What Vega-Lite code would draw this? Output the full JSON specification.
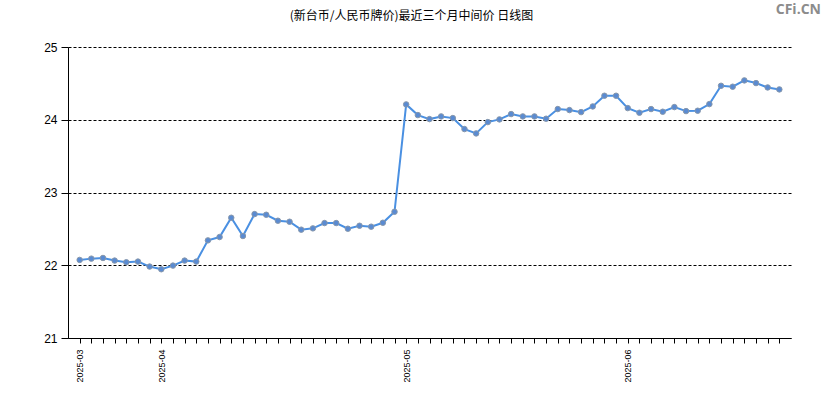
{
  "$schema": "https://vega.github.io/schema/vega-lite/v6.json",
  "width": 723,
  "height": 291,
  "autosize": {"type": "none"},
  "padding": {"left": 68, "top": 47, "right": 34, "bottom": 62},
  "background": "white",
  "title": {
    "text": "(新台币/人民币牌价)最近三个月中间价 日线图",
    "font": "Noto Sans CJK SC",
    "fontSize": 12,
    "fontWeight": "normal",
    "color": "#000000",
    "anchor": "middle",
    "dx": -18,
    "offset": -20
  },
  "config": {
    "view": {"stroke": null},
    "axis": {"labelFont": "Liberation Sans", "titleFont": "Liberation Sans"}
  },
  "data": {
    "values": [
      {"date": "2025-03-21", "rate": 22.073},
      {"date": "2025-03-24", "rate": 22.091},
      {"date": "2025-03-25", "rate": 22.100},
      {"date": "2025-03-26", "rate": 22.064},
      {"date": "2025-03-27", "rate": 22.041},
      {"date": "2025-03-28", "rate": 22.050},
      {"date": "2025-03-31", "rate": 21.982},
      {"date": "2025-04-01", "rate": 21.945},
      {"date": "2025-04-02", "rate": 21.995},
      {"date": "2025-04-03", "rate": 22.064},
      {"date": "2025-04-07", "rate": 22.050},
      {"date": "2025-04-08", "rate": 22.342},
      {"date": "2025-04-09", "rate": 22.388},
      {"date": "2025-04-10", "rate": 22.653},
      {"date": "2025-04-11", "rate": 22.402},
      {"date": "2025-04-14", "rate": 22.703},
      {"date": "2025-04-15", "rate": 22.694},
      {"date": "2025-04-16", "rate": 22.612},
      {"date": "2025-04-17", "rate": 22.598},
      {"date": "2025-04-18", "rate": 22.489},
      {"date": "2025-04-21", "rate": 22.507},
      {"date": "2025-04-22", "rate": 22.580},
      {"date": "2025-04-23", "rate": 22.580},
      {"date": "2025-04-24", "rate": 22.502},
      {"date": "2025-04-25", "rate": 22.543},
      {"date": "2025-04-28", "rate": 22.530},
      {"date": "2025-04-29", "rate": 22.584},
      {"date": "2025-04-30", "rate": 22.735},
      {"date": "2025-05-06", "rate": 24.211},
      {"date": "2025-05-07", "rate": 24.064},
      {"date": "2025-05-08", "rate": 24.009},
      {"date": "2025-05-09", "rate": 24.046},
      {"date": "2025-05-12", "rate": 24.023},
      {"date": "2025-05-13", "rate": 23.872},
      {"date": "2025-05-14", "rate": 23.812},
      {"date": "2025-05-15", "rate": 23.968},
      {"date": "2025-05-16", "rate": 24.005},
      {"date": "2025-05-19", "rate": 24.078},
      {"date": "2025-05-20", "rate": 24.046},
      {"date": "2025-05-21", "rate": 24.046},
      {"date": "2025-05-22", "rate": 24.014},
      {"date": "2025-05-23", "rate": 24.147},
      {"date": "2025-05-26", "rate": 24.133},
      {"date": "2025-05-27", "rate": 24.105},
      {"date": "2025-05-28", "rate": 24.183},
      {"date": "2025-05-29", "rate": 24.330},
      {"date": "2025-05-30", "rate": 24.330},
      {"date": "2025-06-03", "rate": 24.160},
      {"date": "2025-06-04", "rate": 24.096},
      {"date": "2025-06-05", "rate": 24.147},
      {"date": "2025-06-06", "rate": 24.110},
      {"date": "2025-06-09", "rate": 24.174},
      {"date": "2025-06-10", "rate": 24.119},
      {"date": "2025-06-11", "rate": 24.124},
      {"date": "2025-06-12", "rate": 24.215},
      {"date": "2025-06-13", "rate": 24.467},
      {"date": "2025-06-16", "rate": 24.454},
      {"date": "2025-06-17", "rate": 24.541},
      {"date": "2025-06-18", "rate": 24.504},
      {"date": "2025-06-19", "rate": 24.444},
      {"date": "2025-06-20", "rate": 24.417}
    ]
  },
  "encoding": {
    "x": {
      "field": "date",
      "type": "ordinal",
      "sort": null,
      "scale": {"type": "point", "padding": 1},
      "axis": {
        "title": null,
        "labelAngle": -90,
        "labelFontSize": 9,
        "labelColor": "#000000",
        "labelPadding": 6,
        "labelExpr": "indexof(['2025-03-21','2025-04-01','2025-05-06','2025-06-03'], datum.value) >= 0 ? slice(datum.value, 0, 7) : ''",
        "labelOverlap": false,
        "tickColor": "#000000",
        "tickSize": 5,
        "domainColor": "#000000",
        "grid": false
      }
    },
    "y": {
      "field": "rate",
      "type": "quantitative",
      "scale": {"domain": [21, 25], "nice": false, "zero": false},
      "axis": {
        "title": null,
        "values": [21, 22, 23, 24, 25],
        "format": "d",
        "labelFontSize": 12,
        "labelColor": "#000000",
        "labelPadding": 4,
        "tickColor": "#000000",
        "tickSize": 7,
        "domainColor": "#000000",
        "grid": true,
        "gridColor": "#000000",
        "gridDash": [3, 2],
        "gridOpacity": 1,
        "gridWidth": 1
      }
    }
  },
  "layer": [
    {
      "mark": {"type": "line", "color": "#4a90e2", "strokeWidth": 2}
    },
    {
      "mark": {"type": "point", "filled": true, "fill": "#5a8bd2", "stroke": "#8797ab", "strokeWidth": 1, "size": 30, "opacity": 1}
    },
    {
      "data": {"values": [{"date": "2025-06-20", "rate": 25.515, "label": "CFi.CN"}]},
      "mark": {"type": "text", "font": "Open Sans", "fontSize": 14, "fontWeight": "bold", "color": "#8c8c8c", "dx": 19, "baseline": "middle", "align": "center"},
      "encoding": {"text": {"field": "label"}}
    }
  ]
}
